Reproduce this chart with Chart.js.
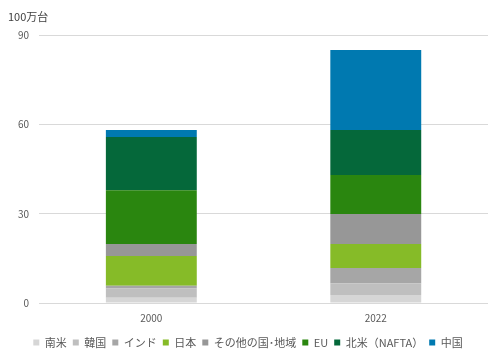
<!DOCTYPE html>
<html>
<head>
<meta charset="utf-8">
<script src="https://cdn.jsdelivr.net/npm/chart.js@4"></script>
<style>
  html, body { margin: 0; padding: 0; background: #fff; }
  #wrap { width: 497px; height: 359px; }
</style>
</head>
<body>
<div id="wrap"><canvas id="chart"></canvas></div>
<script>
// 年
const years = ['2000', '2022'];
// 地域ごとの生産台数（100万台）
const southAmerica = [1.8, 2.7];
const korea = [3.1, 3.9];
const india = [0.9, 5.2];
const japan = [10.0, 8.0];
const others = [4.0, 10.1];
const eu = [18.1, 13.1];
const nafta = [17.9, 15.1];
const china = [2.3, 26.9];
const yTicks = [0, 30, 60, 90];

const font = '"Noto Sans CJK JP", "Noto Sans", sans-serif';

const ctx = document.getElementById('chart').getContext('2d');
new Chart(ctx, {
    type: 'bar',
    data: {
        labels: years,
        datasets: [
            { label: '南米', data: southAmerica, backgroundColor: '#d6d6d6' },
            { label: '韓国', data: korea, backgroundColor: '#bfbfbf' },
            { label: 'インド', data: india, backgroundColor: '#a6a6a6' },
            { label: '日本', data: japan, backgroundColor: '#86bb28' },
            { label: 'その他の国･地域', data: others, backgroundColor: '#979797' },
            { label: 'EU', data: eu, backgroundColor: '#2a860f' },
            { label: '北米（NAFTA）', data: nafta, backgroundColor: '#05683a' },
            { label: '中国', data: china, backgroundColor: '#0079b0' }
        ]
    },
    options: {
        responsive: true,
        maintainAspectRatio: false,
        animation: false,
        layout: { padding: { left: 8, right: 9, top: 10, bottom: 1 } },
        datasets: { bar: { barPercentage: 0.81, categoryPercentage: 0.5 } },
        plugins: {
            title: {
                display: true,
                text: '100万台',
                align: 'start',
                color: '#404040',
                font: { family: font, size: 11, weight: 'normal' },
                padding: { top: 0, bottom: 12 }
            },
            legend: {
                position: 'bottom',
                labels: {
                    color: '#595959',
                    font: { family: font, size: 11 },
                    boxWidth: 6,
                    boxHeight: 6,
                    padding: 6
                }
            },
            tooltip: { enabled: false }
        },
        scales: {
            x: {
                stacked: true,
                grid: { display: false },
                border: { display: false },
                ticks: { color: '#595959', font: { family: font, size: 10 }, padding: 1 },
                afterFit: scale => { scale.height += 6; }
            },
            y: {
                stacked: true,
                min: 0,
                max: 90,
                afterBuildTicks: axis => { axis.ticks = yTicks.map(v => ({ value: v })); },
                grid: { color: '#d9d9d9', drawTicks: false },
                border: { display: false },
                ticks: { color: '#595959', font: { family: font, size: 10 }, padding: 10 }
            }
        }
    }
});
</script>
</body>
</html>
